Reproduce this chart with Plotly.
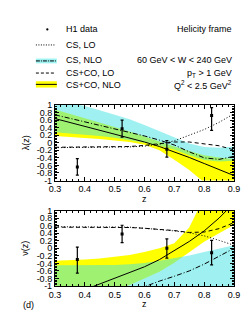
import plotly.graph_objects as go

# ---------------- data ----------------
z_grid = [0.3, 0.35, 0.4, 0.45, 0.5, 0.55, 0.6, 0.65, 0.7, 0.75, 0.8, 0.85, 0.9]
z_data = [0.375, 0.525, 0.675, 0.825]

# lambda(z)
lam_data = [-0.64, 0.37, -0.17, 0.72]
lam_err_up = [0.22, 0.23, 0.23, 0.21]
lam_err_dn = [0.22, 0.22, 0.21, 0.39]
lam_cs_lo = [-0.13, -0.13, -0.13, -0.13, -0.12, -0.11, -0.09, -0.04, 0.05, 0.19, 0.35, 0.54, 0.77]
lam_csco_lo = [-0.12, -0.12, -0.12, -0.12, -0.11, -0.10, -0.07, -0.02, 0.02, 0.02, -0.02, -0.08, -0.19]
lam_cs_nlo = [0.74, 0.65, 0.56, 0.47, 0.38, 0.28, 0.18, 0.07, -0.06, -0.24, -0.40, -0.44, -0.36]
lam_cs_nlo_up = [1.15, 1.06, 0.97, 0.86, 0.75, 0.62, 0.47, 0.30, 0.13, -0.02, -0.11, -0.13, -0.10]
lam_cs_nlo_dn = [0.28, 0.25, 0.22, 0.18, 0.13, 0.07, 0.00, -0.08, -0.18, -0.33, -0.46, -0.50, -0.48]
lam_csco_nlo = [0.64, 0.54, 0.44, 0.34, 0.24, 0.13, 0.02, -0.10, -0.24, -0.39, -0.55, -0.71, -0.87]
lam_csco_nlo_up = [0.88, 0.77, 0.66, 0.54, 0.42, 0.30, 0.16, 0.02, -0.10, -0.22, -0.33, -0.39, -0.43]
lam_csco_nlo_dn = [0.18, 0.16, 0.13, 0.10, 0.06, 0.02, -0.05, -0.20, -0.45, -0.72, -1.05, -1.30, -1.55]

# nu(z)
nu_data = [-0.30, 0.38, 0.00, -0.12]
nu_err_up = [0.33, 0.23, 0.25, 0.33]
nu_err_dn = [0.36, 0.23, 0.26, 0.32]
nu_cs_lo = [0.57, 0.57, 0.57, 0.57, 0.57, 0.56, 0.53, 0.50, 0.46, 0.41, 0.33, 0.21, 0.08]
nu_csco_lo = [0.56, 0.56, 0.56, 0.56, 0.56, 0.55, 0.53, 0.50, 0.47, 0.42, 0.43, 0.52, 0.68]
nu_cs_nlo = [-1.90, -1.75, -1.60, -1.45, -1.30, -1.15, -1.00, -0.87, -0.74, -0.60, -0.42, -0.22, 0.00]
nu_cs_nlo_up = [-0.45, -0.45, -0.45, -0.45, -0.44, -0.42, -0.39, -0.33, -0.26, -0.19, -0.10, -0.01, 0.08]
nu_cs_nlo_dn = [-3.0, -2.8, -2.6, -2.4, -2.2, -1.9, -1.6, -1.5, -1.4, -1.32, -1.25, -1.18, -1.12]
nu_csco_nlo = [-1.40, -1.25, -1.10, -0.93, -0.79, -0.65, -0.49, -0.30, -0.07, 0.18, 0.46, 0.80, 1.20]
nu_csco_nlo_up = [-0.33, -0.32, -0.30, -0.27, -0.23, -0.18, -0.10, 0.00, 0.13, 0.55, 1.35, 1.90, 2.40]
nu_csco_nlo_dn = [-1.80, -1.60, -1.42, -1.26, -1.12, -0.97, -0.80, -0.62, -0.38, -0.10, 0.17, 0.40, 0.62]

x_ticks = [0.3, 0.4, 0.5, 0.6, 0.7, 0.8, 0.9]
y_ticks = [-1, -0.8, -0.6, -0.4, -0.2, 0, 0.2, 0.4, 0.6, 0.8, 1]
y_ticktext = ["-1", "-0.8", "-0.6", "-0.4", "-0.2", "0", "0.2", "0.4", "0.6", "0.8", "1"]

# ---------------- styling ----------------
FONT = "Liberation Sans, Arial, sans-serif"
W, H = 252, 315
YELLOW = "#ffff00"
CYAN_FILL = "rgba(64,228,228,0.5)"

fig = go.Figure()


def panel(xa, ya, data, eu, ed, cs_lo, csco_lo, cs_nlo, cs_up, cs_dn, cc_nlo, cc_up, cc_dn):
    ax = dict(xaxis=xa, yaxis=ya, showlegend=False, hoverinfo="skip")
    # yellow band (CS+CO NLO)
    fig.add_trace(go.Scatter(x=z_grid, y=cc_dn, mode="lines", line=dict(width=0), **ax))
    fig.add_trace(go.Scatter(x=z_grid, y=cc_up, mode="lines", line=dict(width=0),
                             fill="tonexty", fillcolor=YELLOW, **ax))
    # cyan band (CS NLO), translucent so overlap with yellow turns green
    fig.add_trace(go.Scatter(x=z_grid, y=cs_dn, mode="lines", line=dict(width=0), **ax))
    fig.add_trace(go.Scatter(x=z_grid, y=cs_up, mode="lines", line=dict(width=0),
                             fill="tonexty", fillcolor=CYAN_FILL, **ax))
    # curves
    fig.add_trace(go.Scatter(x=z_grid, y=cs_lo, mode="lines",
                             line=dict(color="black", width=1, dash="1px,2px"), **ax))
    fig.add_trace(go.Scatter(x=z_grid, y=csco_lo, mode="lines",
                             line=dict(color="black", width=1, dash="4px,3px"), **ax))
    fig.add_trace(go.Scatter(x=z_grid, y=cs_nlo, mode="lines",
                             line=dict(color="black", width=1, dash="5px,2px,1px,2px"), **ax))
    fig.add_trace(go.Scatter(x=z_grid, y=cc_nlo, mode="lines",
                             line=dict(color="black", width=1), **ax))
    # data
    fig.add_trace(go.Scatter(x=z_data, y=data, mode="markers",
                             marker=dict(symbol="square", size=3, color="black"),
                             error_y=dict(type="data", array=eu, arrayminus=ed, symmetric=False,
                                          color="black", thickness=1.2, width=1.5), **ax))


panel("x", "y", lam_data, lam_err_up, lam_err_dn, lam_cs_lo, lam_csco_lo, lam_cs_nlo,
      lam_cs_nlo_up, lam_cs_nlo_dn, lam_csco_nlo, lam_csco_nlo_up, lam_csco_nlo_dn)
panel("x2", "y2", nu_data, nu_err_up, nu_err_dn, nu_cs_lo, nu_csco_lo, nu_cs_nlo,
      nu_cs_nlo_up, nu_cs_nlo_dn, nu_csco_nlo, nu_csco_nlo_up, nu_csco_nlo_dn)


def py(ypix):
    return 1 - ypix / H


def px(xpix):
    return xpix / W


xdom = [px(43), px(231)]
common_x = dict(range=[0.3, 0.9], tickvals=x_ticks, ticktext=[str(v) for v in x_ticks],
                showline=True, mirror="allticks", linecolor="black", linewidth=1,
                ticks="inside", ticklen=4, tickcolor="black", tickwidth=1,
                minor=dict(dtick=0.02, ticks="inside", ticklen=2, tickcolor="black"),
                showgrid=False, zeroline=False, tickfont=dict(size=9, family=FONT, color="black"),
                domain=xdom)
common_y = dict(range=[-1, 1], tickvals=y_ticks, ticktext=y_ticktext,
                showline=True, mirror="allticks", linecolor="black", linewidth=1,
                ticks="inside", ticklen=4, tickcolor="black", tickwidth=1,
                minor=dict(dtick=0.04, tick0=-1, ticks="inside", ticklen=2, tickcolor="black"),
                showgrid=False, zeroline=False, tickfont=dict(size=9, family=FONT, color="black"))

fig.update_layout(
    width=W, height=H,
    margin=dict(l=0, r=0, t=0, b=0),
    paper_bgcolor="white", plot_bgcolor="white",
    font=dict(family=FONT, size=9, color="black"),
    xaxis=dict(common_x, anchor="y"),
    yaxis=dict(common_y, domain=[py(173), py(95)], anchor="x"),
    xaxis2=dict(common_x, anchor="y2"),
    yaxis2=dict(common_y, domain=[py(282), py(204)], anchor="x2"),
)

shapes = []
ann = []


def text(x, y, s, anchor="left", angle=0):
    ann.append(dict(x=px(x), y=py(y), xref="paper", yref="paper", text=s, showarrow=False,
                    xanchor=anchor, yanchor="middle", textangle=angle,
                    font=dict(size=9, family=FONT, color="black")))


# legend
shapes.append(dict(type="circle", xref="paper", yref="paper", x0=px(33.8), x1=px(36.2),
                   y0=py(18.2), y1=py(15.8), fillcolor="black", line=dict(width=0)))
text(52, 17, "H1 data")
shapes.append(dict(type="line", xref="paper", yref="paper", x0=px(23), x1=px(44), y0=py(33), y1=py(33),
                   line=dict(color="black", width=1, dash="1px,1.5px")))
text(52, 33, "CS, LO")
shapes.append(dict(type="rect", xref="paper", yref="paper", x0=px(23), x1=px(45), y0=py(52), y1=py(47),
                   fillcolor="#9ff2f2", line=dict(width=0)))
shapes.append(dict(type="line", xref="paper", yref="paper", x0=px(23), x1=px(45), y0=py(49.5), y1=py(49.5),
                   line=dict(color="black", width=1, dash="4px,1px,1px,1px")))
text(52, 49, "CS, NLO")
shapes.append(dict(type="line", xref="paper", yref="paper", x0=px(23), x1=px(44), y0=py(62), y1=py(62),
                   line=dict(color="black", width=1, dash="3px,2px")))
text(52, 62, "CS+CO, LO")
shapes.append(dict(type="rect", xref="paper", yref="paper", x0=px(23), x1=px(45), y0=py(77), y1=py(70.5),
                   fillcolor=YELLOW, line=dict(width=0)))
shapes.append(dict(type="line", xref="paper", yref="paper", x0=px(23), x1=px(45), y0=py(73.7), y1=py(73.7),
                   line=dict(color="black", width=1)))
text(52, 74, "CS+CO, NLO")

text(231, 17, "Helicity frame", "right")
text(231, 49, "60 GeV &lt; W &lt; 240 GeV", "right")
text(231, 62, "p<sub>T</sub> &gt; 1 GeV", "right")
text(231, 74, "Q<sup>2</sup> &lt; 2.5 GeV<sup>2</sup>", "right")

# axis titles
text(12, 134, "λ(z)", "center", -90)
text(12, 243, "ν(z)", "center", -90)
text(137, 192, "z", "center")
text(137, 301, "z", "center")
text(7, 302, "(d)", "left")

fig.update_layout(shapes=shapes, annotations=ann)
fig.write_html("out.html")
